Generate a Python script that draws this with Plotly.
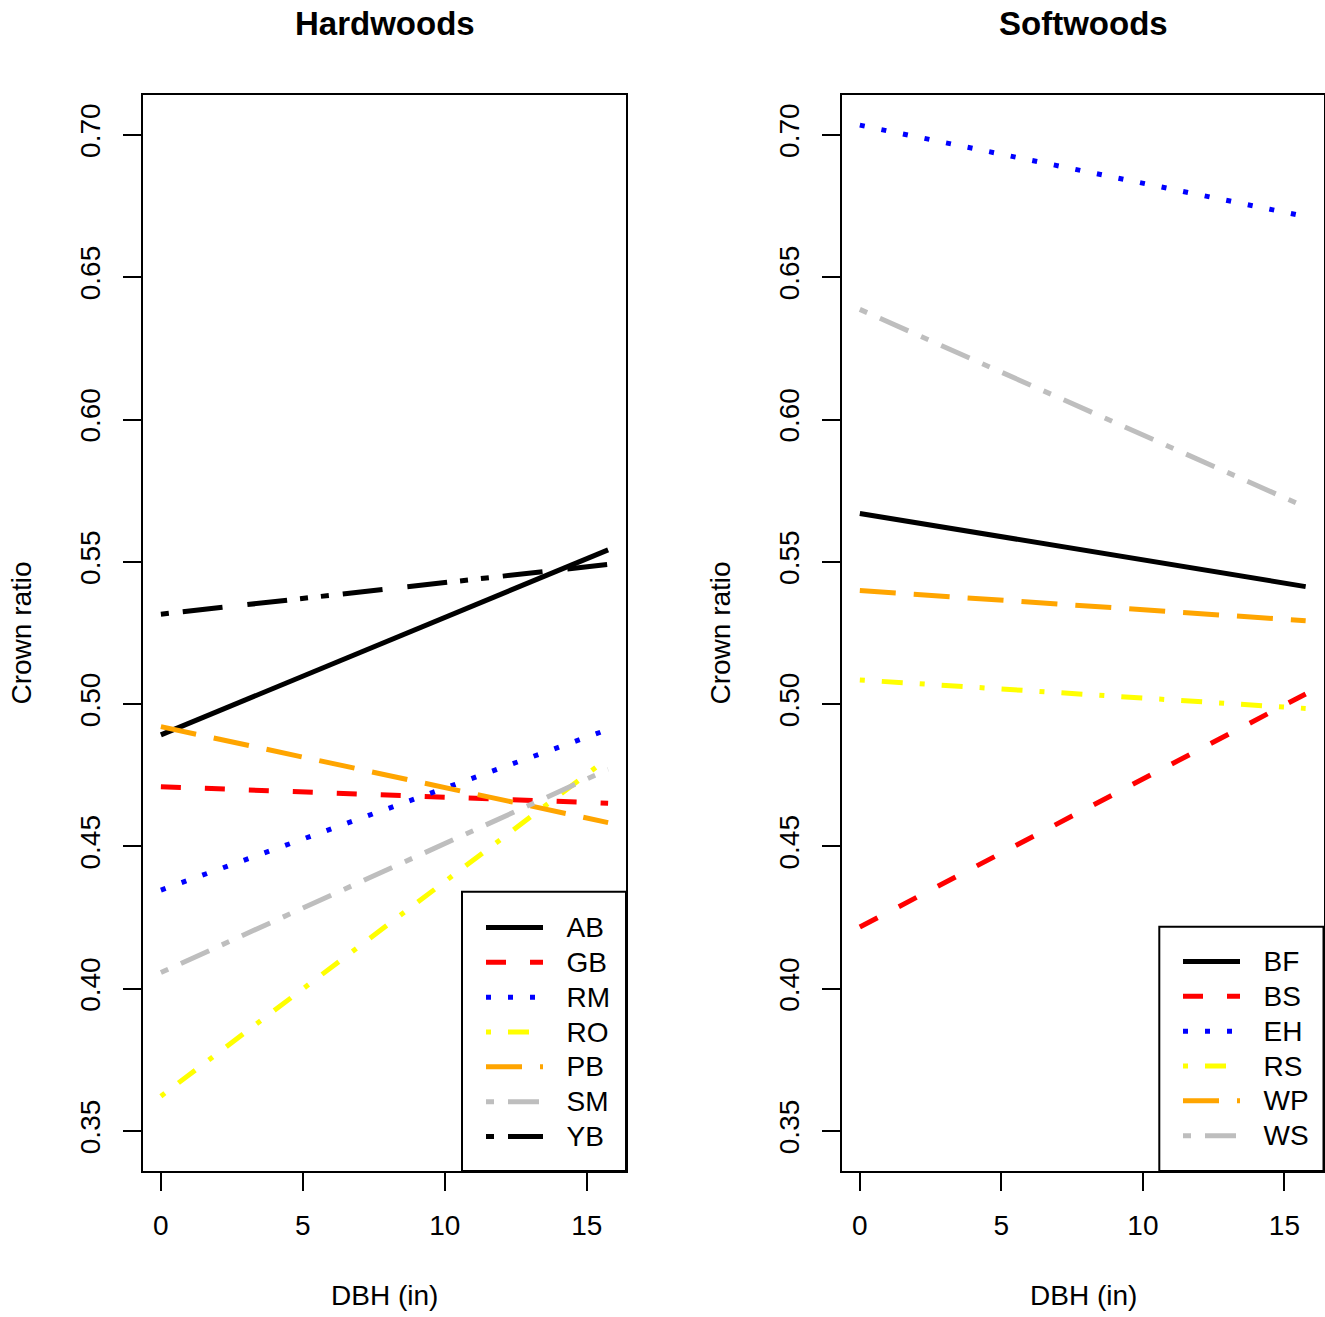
import plotly.graph_objects as go

# ---------------- data ----------------
dbh = [0, 15.75]

hard_species = ["AB", "GB", "RM", "RO", "PB", "SM", "YB"]
hard_start = [0.4892, 0.4710, 0.4347, 0.3623, 0.4921, 0.4057, 0.5316]
hard_end = [0.5542, 0.4652, 0.4911, 0.4810, 0.4584, 0.4771, 0.5491]

soft_species = ["BF", "BS", "EH", "RS", "WP", "WS"]
soft_start = [0.5670, 0.4217, 0.7034, 0.5085, 0.5399, 0.6387]
soft_end = [0.5413, 0.5036, 0.6713, 0.4985, 0.5293, 0.5692]

y_ticks = [0.35, 0.40, 0.45, 0.50, 0.55, 0.60, 0.65, 0.70]
y_ticktext = ["0.35", "0.40", "0.45", "0.50", "0.55", "0.60", "0.65", "0.70"]
x_ticks = [0, 5, 10, 15]
x_ticktext = ["0", "5", "10", "15"]

# ---------------- styles ----------------
colors = ["#000000", "#FF0000", "#0000FF", "#FFFF00", "#FFA500", "#BEBEBE", "#000000"]
dashes = [
    "solid",
    "20px,24px",
    "5px,17px",
    "5px,17px,21px,17px",
    "36px,18px",
    "8px,14px,31px,14px",
    "8px,14px,40px,25px,40px,13px,8px,13px",
]

FONT = "Liberation Sans, Arial, Helvetica, sans-serif"
W, H = 1325, 1317
PAD = "\u00a0\u00a0\u2009"


def lbl(s):
    return PAD + '<span style="font-size:28px">' + s + "</span>"


fig = go.Figure()

for i, sp in enumerate(hard_species):
    fig.add_trace(go.Scatter(
        x=dbh, y=[hard_start[i], hard_end[i]], mode="lines", name=lbl(sp),
        line=dict(color=colors[i], width=5, dash=dashes[i]),
        xaxis="x", yaxis="y", legend="legend",
    ))

for i, sp in enumerate(soft_species):
    fig.add_trace(go.Scatter(
        x=dbh, y=[soft_start[i], soft_end[i]], mode="lines", name=lbl(sp),
        line=dict(color=colors[i], width=5, dash=dashes[i]),
        xaxis="x2", yaxis="y2", legend="legend2",
    ))

ydom = [(H - 1171) / H, (H - 95) / H]
xdom1 = [143 / W, 626 / W]
xdom2 = [842 / W, 1323.5 / W]


def xaxis(dom, anchor):
    return dict(
        domain=dom, anchor=anchor, range=[-0.63, 16.38],
        tickmode="array", tickvals=x_ticks, ticktext=x_ticktext,
        ticks="outside", ticklen=18, tickwidth=2, tickcolor="black",
        showline=True, linecolor="black", linewidth=2, mirror=True,
        showgrid=False, zeroline=False,
        tickfont=dict(family=FONT, size=28, color="black"),
        ticklabelstandoff=10,
    )


def yaxis(anchor):
    return dict(
        domain=ydom, anchor=anchor, range=[0.336, 0.714],
        tickmode="array", tickvals=y_ticks, ticktext=y_ticktext,
        ticks="outside", ticklen=18, tickwidth=2, tickcolor="black",
        showline=True, linecolor="black", linewidth=2, mirror=True,
        showgrid=False, zeroline=False, tickangle=-90,
        tickfont=dict(family=FONT, size=28, color="black"),
        ticklabelstandoff=12,
    )


legend_common = dict(
    bgcolor="rgba(0,0,0,0)", bordercolor="black", borderwidth=0,
    font=dict(family=FONT, size=24.5, color="black"),
    xanchor="left", yanchor="top", itemwidth=57,
    tracegroupgap=0, itemclick=False, itemdoubleclick=False,
)

fig.update_layout(
    width=W, height=H,
    margin=dict(l=0, r=0, t=0, b=0),
    paper_bgcolor="white", plot_bgcolor="white",
    font=dict(family=FONT, size=28, color="black"),
    xaxis=xaxis(xdom1, "y"), yaxis=yaxis("x"),
    xaxis2=xaxis(xdom2, "y2"), yaxis2=yaxis("x2"),
    legend=dict(x=(486 - 5) / W, y=(H - 905) / H, **legend_common),
    legend2=dict(x=(1183 - 5) / W, y=(H - 939) / H, **legend_common),
    showlegend=True,
)

# legend frames (R-style boxes, white background)
fig.add_shape(type="rect", xref="paper", yref="paper",
              x0=462 / W, x1=626 / W, y0=ydom[0], y1=(H - 891.7) / H,
              line=dict(color="black", width=2), fillcolor="white", layer="above")
fig.add_shape(type="rect", xref="paper", yref="paper",
              x0=1159.3 / W, x1=1323.5 / W, y0=ydom[0], y1=(H - 926.7) / H,
              line=dict(color="black", width=2), fillcolor="white", layer="above")

annos = [
    dict(text="<b>Hardwoods</b>", x=384.5 / W, y=(H - 24) / H, size=33, angle=0),
    dict(text="<b>Softwoods</b>", x=1083 / W, y=(H - 24) / H, size=33, angle=0),
    dict(text="DBH (in)", x=384.5 / W, y=(H - 1295) / H, size=28, angle=0),
    dict(text="DBH (in)", x=1083 / W, y=(H - 1295) / H, size=28, angle=0),
    dict(text="Crown ratio", x=20.5 / W, y=(H - 633) / H, size=28, angle=-90),
    dict(text="Crown ratio", x=719.5 / W, y=(H - 633) / H, size=28, angle=-90),
]
for a in annos:
    fig.add_annotation(
        text=a["text"], x=a["x"], y=a["y"], xref="paper", yref="paper",
        xanchor="center", yanchor="middle", showarrow=False, textangle=a["angle"],
        font=dict(family=FONT, size=a["size"], color="black"),
    )

fig.write_html(
    "out.html",
    config={"displayModeBar": False, "staticPlot": True},
    post_script="document.body.style.margin='0';document.body.style.overflow='hidden';",
)
